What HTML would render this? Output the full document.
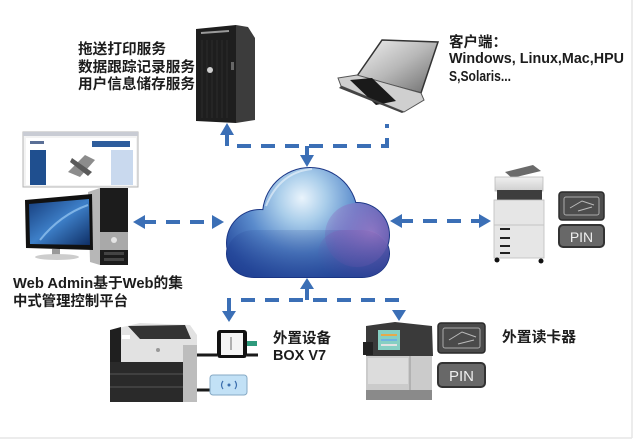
<!DOCTYPE html>
<html>
<head>
<meta charset="utf-8">
<style>
html,body{margin:0;padding:0;background:#fff;}
svg{display:block;}
.t{font-family:"Liberation Sans","Noto Sans CJK SC",sans-serif;font-weight:bold;fill:#1c1c1c;}
</style>
</head>
<body>
<svg width="634" height="440" viewBox="0 0 634 440" xmlns="http://www.w3.org/2000/svg">
<defs>
  <radialGradient id="cg" gradientUnits="userSpaceOnUse" cx="302" cy="198" r="110">
    <stop offset="0" stop-color="#eaf4fc"/>
    <stop offset="0.22" stop-color="#a9cdea"/>
    <stop offset="0.5" stop-color="#5a8bcc"/>
    <stop offset="0.8" stop-color="#2c52a3"/>
    <stop offset="1" stop-color="#1d3b8e"/>
  </radialGradient>
  <radialGradient id="pg" gradientUnits="userSpaceOnUse" cx="372" cy="232" r="62">
    <stop offset="0" stop-color="#a77cca" stop-opacity="0.75"/>
    <stop offset="0.6" stop-color="#8e6ac0" stop-opacity="0.45"/>
    <stop offset="1" stop-color="#7a60b8" stop-opacity="0"/>
  </radialGradient>
  <linearGradient id="dk" gradientUnits="userSpaceOnUse" x1="0" y1="215" x2="0" y2="278">
    <stop offset="0" stop-color="#1d3b8e" stop-opacity="0"/>
    <stop offset="1" stop-color="#1d3b8e" stop-opacity="0.6"/>
  </linearGradient>
  <linearGradient id="scr" x1="0" y1="0" x2="1" y2="1">
    <stop offset="0" stop-color="#163d7c"/>
    <stop offset="0.5" stop-color="#3d7fc8"/>
    <stop offset="1" stop-color="#0f2f66"/>
  </linearGradient>
  <linearGradient id="lid" x1="0" y1="0" x2="1" y2="1">
    <stop offset="0" stop-color="#f2f2f2"/>
    <stop offset="0.5" stop-color="#b8b8b8"/>
    <stop offset="1" stop-color="#6a6a6a"/>
  </linearGradient>
  <linearGradient id="gry" x1="0" y1="0" x2="0" y2="1">
    <stop offset="0" stop-color="#f0f0f0"/>
    <stop offset="1" stop-color="#cfcfcf"/>
  </linearGradient>
</defs>

<!-- faint frame -->
<line x1="632" y1="0" x2="632" y2="438" stroke="#e6e6e6" stroke-width="1.5"/>
<line x1="0" y1="438" x2="632" y2="438" stroke="#e6e6e6" stroke-width="1.5"/>

<!-- ===== connectors ===== -->
<g stroke="#3b6fb6" stroke-width="4" fill="none">
  <path d="M227,132 V146 H387 V124" stroke-dasharray="14 10"/>
  <line x1="307" y1="146" x2="307" y2="158"/>
  <line x1="142" y1="222" x2="214" y2="222" stroke-dasharray="14 10"/>
  <line x1="399" y1="221" x2="481" y2="221" stroke-dasharray="14 10"/>
  <line x1="307" y1="287" x2="307" y2="300"/>
  <path d="M229,312 V300 H399 V312" stroke-dasharray="14 10"/>
</g>
<g fill="#3b6fb6">
  <polygon points="220,135 234,135 227,123"/>
  <polygon points="300,155 314,155 307,167"/>
  <polygon points="133,222 145,215 145,229"/>
  <polygon points="224,222 212,215 212,229"/>
  <polygon points="390,221 402,214 402,228"/>
  <polygon points="491,221 479,214 479,228"/>
  <polygon points="300,289 314,289 307,278"/>
  <polygon points="222,311 236,311 229,322"/>
  <polygon points="392,310 406,310 399,321"/>
</g>

<!-- ===== cloud ===== -->
<g>
  <g fill="#1a3585">
    <rect x="226" y="229" width="164" height="49" rx="28"/>
    <circle cx="260" cy="243" r="34"/>
    <circle cx="310" cy="215" r="48"/>
    <circle cx="357" cy="235" r="33"/>
  </g>
  <g fill="url(#cg)">
    <rect x="227" y="230" width="162" height="47" rx="27"/>
    <circle cx="260" cy="243" r="33"/>
    <circle cx="310" cy="215" r="47"/>
    <circle cx="357" cy="235" r="32"/>
  </g>
  <g fill="url(#pg)">
    <circle cx="357" cy="235" r="32"/>
    <rect x="318" y="230" width="71" height="47" rx="26"/>
  </g>
  <g fill="url(#dk)">
    <rect x="227" y="230" width="162" height="47" rx="27"/>
  </g>
  <path d="M266,206 Q280,172 312,169" stroke="#ffffff" stroke-opacity="0.5" stroke-width="2" fill="none"/>
</g>

<!-- ===== server ===== -->
<g>
  <polygon points="236,25 248,27 255,38 255,120 236,123" fill="#3c3c3c"/>
  <polygon points="196,29 236,25 236,123 196,121" fill="#1e1e1e"/>
  <line x1="201" y1="33" x2="229" y2="31" stroke="#9a9a9a" stroke-width="2"/>
  <g stroke="#2c2c2c" stroke-width="1">
    <line x1="202" y1="40" x2="202" y2="118"/><line x1="207" y1="40" x2="207" y2="118"/>
    <line x1="212" y1="40" x2="212" y2="118"/><line x1="217" y1="40" x2="217" y2="118"/>
    <line x1="222" y1="40" x2="222" y2="118"/><line x1="227" y1="40" x2="227" y2="118"/>
  </g>
  <circle cx="210" cy="70" r="3" fill="#cfcfcf"/>
  <rect x="231" y="62" width="3" height="8" fill="#666"/>
</g>

<!-- ===== laptop ===== -->
<g>
  <polygon points="382,40 438,42 421,93 357,76" fill="url(#lid)" stroke="#333" stroke-width="1.5"/>
  <polygon points="338,78 357,75 421,93 424,100 404,112 341,86" fill="#cfcfcf" stroke="#555" stroke-width="1"/>
  <polygon points="350,80 372,78 396,101 376,105" fill="#1a1a1a"/>
  <polygon points="341,86 404,112 402,113 339,88" fill="#444"/>
</g>

<!-- ===== web admin computer ===== -->
<g>
  <rect x="23" y="132" width="115" height="55" fill="#f3f3f3" stroke="#b5b5b5" stroke-width="1"/>
  <rect x="23" y="132" width="115" height="4" fill="#c9ccd4"/>
  <rect x="26" y="138" width="110" height="47" fill="#ffffff"/>
  <rect x="30" y="141" width="14" height="3" fill="#5a6f96"/>
  <rect x="92" y="141" width="38" height="6" fill="#2e5d9c"/>
  <rect x="30" y="150" width="16" height="35" fill="#1f4f8f"/>
  <rect x="111" y="150" width="22" height="35" fill="#c9d9ee"/>
  <polygon points="68,172 85,155 95,160 80,177" fill="#8c8c8c"/>
  <polygon points="72,158 92,172 88,176 70,162" fill="#5a5a5a"/>

  <polygon points="88,192 100,188 100,265 90,262" fill="#b7b7b7"/>
  <rect x="100" y="188" width="28" height="77" fill="#1c1c1c"/>
  <rect x="100" y="232" width="28" height="18" fill="#a9a9a9"/>
  <circle cx="114" cy="240" r="3" fill="#e4e4e4"/>
  <rect x="104" y="252" width="20" height="3" fill="#444"/>
  <rect x="104" y="258" width="20" height="3" fill="#444"/>

  <polygon points="25,200 92,194 93,250 26,248" fill="#111"/>
  <polygon points="29,204 89,199 90,245 30,244" fill="url(#scr)"/>
  <path d="M40,240 Q60,215 88,205" stroke="#8fc0ee" stroke-width="2" fill="none" opacity="0.8"/>
  <rect x="52" y="249" width="8" height="6" fill="#9a9a9a"/>
  <ellipse cx="57" cy="257" rx="22" ry="3" fill="#cdcdcd"/>
</g>

<!-- ===== right printer ===== -->
<g>
  <polygon points="505,172 533,165 541,171 512,178" fill="#6a6a6a"/>
  <rect x="495" y="177" width="48" height="14" fill="url(#gry)" stroke="#bbb" stroke-width="0.8"/>
  <rect x="497" y="190" width="45" height="10" fill="#3d3d3d"/>
  <rect x="494" y="200" width="50" height="58" fill="#e6e6e6" stroke="#bdbdbd" stroke-width="0.8"/>
  <line x1="494" y1="225" x2="544" y2="225" stroke="#c4c4c4"/>
  <g fill="#222">
    <rect x="500" y="228" width="10" height="2"/>
    <rect x="500" y="237" width="10" height="2"/>
    <rect x="500" y="245" width="10" height="2"/>
    <rect x="500" y="252" width="10" height="2"/>
  </g>
  <circle cx="497" cy="260" r="2.5" fill="#111"/>
  <circle cx="541" cy="261" r="2.5" fill="#111"/>

  <rect x="559" y="192" width="45" height="28" rx="3" fill="#4d4d4d" stroke="#2c2c2c" stroke-width="1.5"/>
  <rect x="564" y="197" width="35" height="18" rx="2" fill="none" stroke="#aaa" stroke-width="1"/>
  <path d="M570,208 L582,201 L594,205 M578,211 L592,207" stroke="#bbb" stroke-width="1" fill="none"/>
  <rect x="559" y="225" width="45" height="22" rx="4" fill="#686868" stroke="#333" stroke-width="2"/>
  <text x="581.5" y="242" text-anchor="middle" font-family="Liberation Sans, sans-serif" font-size="14" fill="#eeeeee">PIN</text>
</g>

<!-- ===== bottom-left printer ===== -->
<g>
  <polygon points="110,330 140,323 190,325 197,335 197,362 110,362" fill="#e2e2e2"/>
  <polygon points="128,326 185,325 191,339 140,339" fill="#333"/>
  <polygon points="110,330 121,327 121,362 110,362" fill="#1f1f1f"/>
  <rect x="122" y="335" width="8" height="4" fill="#fff"/>
  <circle cx="158" cy="350" r="2" fill="#999"/>
  <rect x="110" y="362" width="78" height="40" fill="#2a2a2a"/>
  <line x1="110" y1="374" x2="188" y2="374" stroke="#555"/>
  <line x1="110" y1="387" x2="188" y2="387" stroke="#555"/>
  <rect x="183" y="345" width="14" height="57" fill="#bdbdbd"/>

  <line x1="197" y1="355" x2="217" y2="355" stroke="#1a1a1a" stroke-width="3"/>
  <rect x="217" y="330" width="30" height="28" rx="3" fill="#111"/>
  <rect x="221" y="333" width="22" height="22" fill="#f4f4f4"/>
  <line x1="231" y1="337" x2="231" y2="350" stroke="#999" stroke-width="1.5"/>
  <rect x="247" y="341" width="10" height="5" fill="#2e9a7c"/>
  <line x1="247" y1="355" x2="258" y2="355" stroke="#1a1a1a" stroke-width="3"/>

  <line x1="197" y1="390" x2="210" y2="390" stroke="#1a1a1a" stroke-width="3"/>
  <rect x="210" y="375" width="37" height="20" rx="3" fill="#c2e1f6" stroke="#86a9c4" stroke-width="1"/>
  <path d="M223,381 Q220,385 223,389 M235,381 Q238,385 235,389" stroke="#3c6fae" stroke-width="1.2" fill="none"/>
  <circle cx="229" cy="385" r="1.5" fill="#3c6fae"/>
</g>

<!-- ===== bottom-right printer ===== -->
<g>
  <polygon points="366,326 395,322 432,326 433,356 366,356" fill="#3a3a3a"/>
  <rect x="363" y="342" width="10" height="13" fill="#222"/>
  <rect x="378" y="330" width="22" height="20" fill="#86cfc3"/>
  <rect x="381" y="334" width="16" height="2" fill="#e7a84a"/>
  <rect x="381" y="339" width="16" height="2" fill="#6fb3e0"/>
  <rect x="381" y="344" width="16" height="2" fill="#e2e2e2"/>
  <rect x="366" y="356" width="66" height="44" fill="#cbcbcb"/>
  <rect x="368" y="358" width="40" height="26" fill="#dcdcdc"/>
  <rect x="366" y="390" width="66" height="10" fill="#8a8a8a"/>
  <line x1="410" y1="356" x2="410" y2="390" stroke="#9a9a9a"/>

  <rect x="438" y="323" width="47" height="30" rx="3" fill="#4a4a4a" stroke="#2a2a2a" stroke-width="1.5"/>
  <rect x="443" y="328" width="37" height="20" rx="2" fill="none" stroke="#aaa" stroke-width="1"/>
  <path d="M449,340 L462,332 L476,337 M458,344 L474,340" stroke="#bbb" stroke-width="1" fill="none"/>
  <rect x="438" y="363" width="47" height="24" rx="4" fill="#686868" stroke="#333" stroke-width="2"/>
  <text x="461.5" y="381" text-anchor="middle" font-family="Liberation Sans, sans-serif" font-size="15" fill="#eeeeee">PIN</text>
</g>

<!-- ===== labels ===== -->
<text class="t" x="78" y="54" font-size="14.5" textLength="88" lengthAdjust="spacingAndGlyphs">拖送打印服务</text>
<text class="t" x="78" y="72" font-size="14.5" textLength="117" lengthAdjust="spacingAndGlyphs">数据跟踪记录服务</text>
<text class="t" x="78" y="89" font-size="14.5" textLength="117" lengthAdjust="spacingAndGlyphs">用户信息储存服务</text>

<text class="t" x="449" y="47" font-size="14.5">客户端：</text>
<text class="t" x="449" y="63" font-size="14.3" textLength="175" lengthAdjust="spacingAndGlyphs">Windows, Linux,Mac,HPU</text>
<text class="t" x="449" y="81" font-size="14.3" textLength="62" lengthAdjust="spacingAndGlyphs">S,Solaris...</text>

<text class="t" x="13" y="288" font-size="14.5" textLength="170" lengthAdjust="spacingAndGlyphs">Web Admin基于Web的集</text>
<text class="t" x="13" y="306" font-size="14.5" textLength="115" lengthAdjust="spacingAndGlyphs">中式管理控制平台</text>

<text class="t" x="273" y="343" font-size="14.5" textLength="58" lengthAdjust="spacingAndGlyphs">外置设备</text>
<text class="t" x="273" y="360" font-size="14.5" textLength="53" lengthAdjust="spacingAndGlyphs">BOX V7</text>

<text class="t" x="502" y="342" font-size="14.5" textLength="74" lengthAdjust="spacingAndGlyphs">外置读卡器</text>
</svg>
</body>
</html>
